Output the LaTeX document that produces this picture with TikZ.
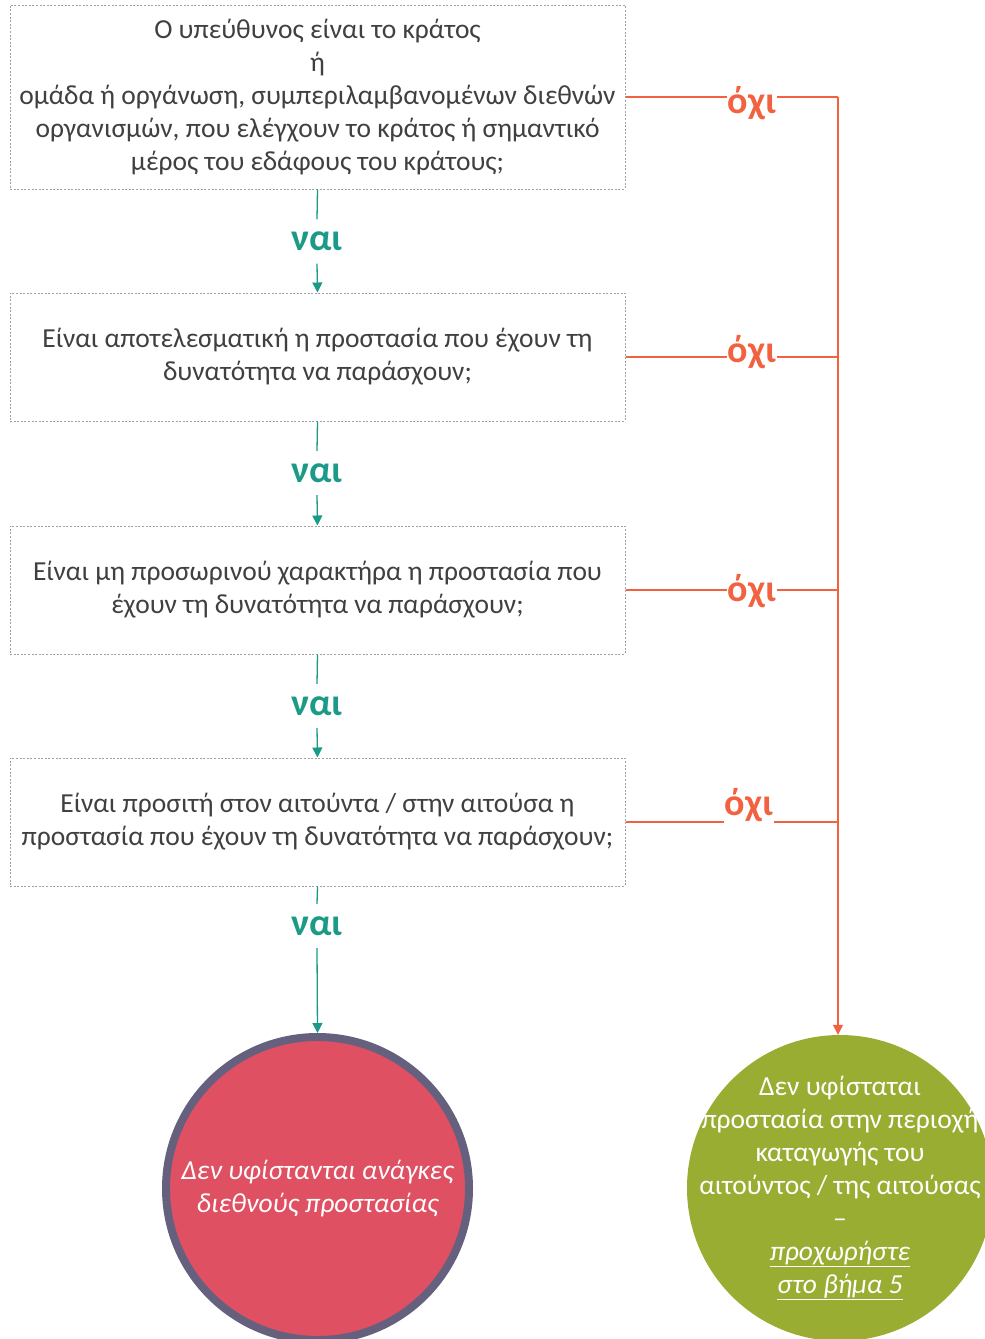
\documentclass[tikz,border=0pt]{standalone}
\usepackage{fontspec}
\setmainfont{Carlito}
\usetikzlibrary{arrows.meta}
\definecolor{txt}{HTML}{404040}
\definecolor{teal}{HTML}{1A9A87}
\definecolor{orng}{HTML}{F26140}
\definecolor{redc}{HTML}{E05063}
\definecolor{ringc}{HTML}{65607E}
\definecolor{grn}{HTML}{98AD32}
\definecolor{boxl}{HTML}{A0A0A0}
\tikzset{
  qbox/.style={draw=boxl, line width=1pt, dash pattern=on 2pt off 1.6pt, minimum width=615pt, inner sep=0pt,
    align=center, text=txt, font=\fontsize{27.5}{32.8}\selectfont},
  yeslab/.style={text=teal, font=\bfseries\fontsize{38}{38}\selectfont, inner sep=0pt, minimum height=44pt},
  nolab/.style={text=orng, font=\bfseries\fontsize{38}{38}\selectfont, fill=white, inner xsep=1pt, inner ysep=3pt},
  yesline/.style={draw=teal, line width=1.3pt},
  yesarr/.style={yesline, -{Triangle[length=10pt,width=10pt]}},
  noline/.style={draw=orng, line width=1.5pt},
  noarr/.style={noline, -{Triangle[length=10pt,width=10pt]}},
  endtxt/.style={text=white, align=center, inner sep=0pt},
}
\begin{document}
\begin{tikzpicture}[x=1pt,y=-1pt]
\useasboundingbox (0,0) rectangle (985,1339);
% question boxes
\node[qbox, minimum height=184pt] (b1) at (317.5,97) {Ο υπεύθυνος είναι το κράτος\\ή\\ομάδα ή οργάνωση, συμπεριλαμβανομένων διεθνών\\οργανισμών, που ελέγχουν το κράτος ή σημαντικό\\μέρος του εδάφους του κράτους;};
\node[qbox, minimum height=128pt] (b2) at (317.5,357) {Είναι αποτελεσματική η προστασία που έχουν τη\\δυνατότητα να παράσχουν;};
\node[qbox, minimum height=128pt] (b3) at (317.5,590) {Είναι μη προσωρινού χαρακτήρα η προστασία που\\έχουν τη δυνατότητα να παράσχουν;};
\node[qbox, minimum height=128pt] (b4) at (317.5,822) {Είναι προσιτή στον αιτούντα / στην αιτούσα η\\προστασία που έχουν τη δυνατότητα να παράσχουν;};
% end circles
\node[circle, fill=redc, draw=ringc, line width=8pt, minimum size=303pt, inner sep=0pt,
  label={[endtxt, font=\itshape\fontsize{27.5}{33}\selectfont]center:{Δεν υφίστανται ανάγκες\\διεθνούς προστασίας}}] (c1) at (317.5,1188.5) {};
\node[circle, fill=grn, minimum size=306pt, inner sep=0pt,
  label={[endtxt, font=\fontsize{27.5}{33}\selectfont]center:{Δεν υφίσταται\\προστασία στην περιοχή\\καταγωγής του\\αιτούντος / της αιτούσας\\–\\\textit{\underline{προχωρήστε}}\\\textit{\underline{στο βήμα 5}}}}] (c2) at (840,1188) {};
% yes labels
\node[yeslab] (y1) at (317,241.5) {ναι};
\node[yeslab] (y2) at (317,473) {ναι};
\node[yeslab] (y3) at (317,706) {ναι};
\node[yeslab] (y4) at (317,926) {ναι};
\draw[yesline] (b1.south) -- (y1.north);
\draw[yesarr] (y1.south) -- (b2.north);
\draw[yesline] (b2.south) -- (y2.north);
\draw[yesarr] (y2.south) -- (b3.north);
\draw[yesline] (b3.south) -- (y3.north);
\draw[yesarr] (y3.south) -- (b4.north);
\draw[yesline] (b4.south) -- (y4.north);
\draw[yesarr] (y4.south) -- (c1.north);
% no branches
\coordinate (j1) at (838,97);
\coordinate (j2) at (838,357);
\coordinate (j3) at (838,590);
\coordinate (j4) at (838,822);
\draw[noline] (b1.east) -- (j1);
\draw[noline] (b2.east) -- (j2);
\draw[noline] (b3.east) -- (j3);
\draw[noline] (b4.east) -- (j4);
\draw[noarr] (j1) -- (c2.north -| j1);
\node[nolab] (n1) at (752,103) {όχι};
\node[nolab] (n2) at (752,352) {όχι};
\node[nolab] (n3) at (752,591) {όχι};
\node[nolab] (n4) at (749,805) {όχι};
\end{tikzpicture}
\end{document}
